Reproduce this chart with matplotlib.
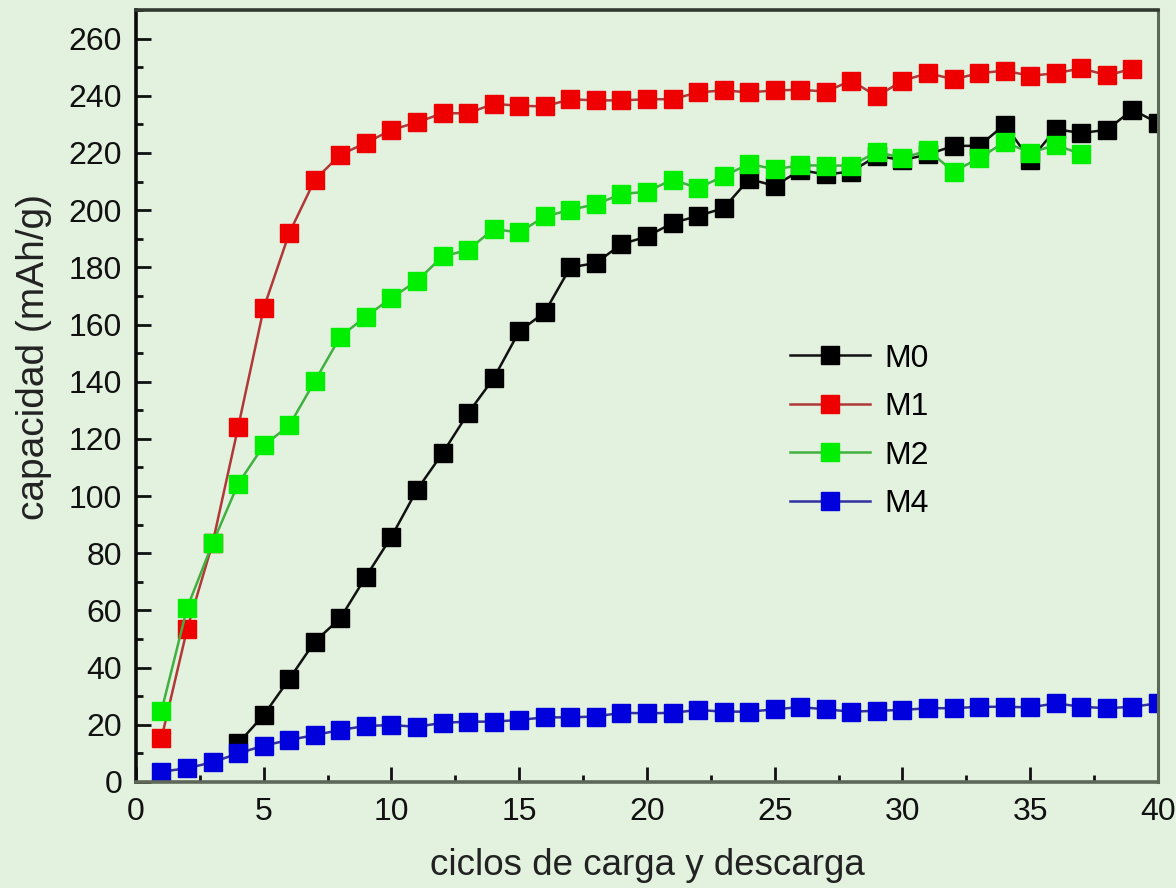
import numpy as np
import matplotlib.pyplot as plt
from matplotlib.ticker import MultipleLocator

plt.rcParams['font.family'] = ['Liberation Sans', 'DejaVu Sans']

# capacidad por ciclo para cada muestra
ciclos_m0 = np.arange(4, 41)
m0 = [13.5, 23.4, 36.0, 49.1, 57.3, 71.8, 85.8, 102.2, 115.0, 129.0,
      141.2, 157.6, 164.3, 180.0, 181.5, 188.1, 190.8, 195.5, 198.0, 200.7,
      210.9, 208.5, 214.0, 212.5, 213.5, 219.0, 217.5, 219.5, 222.5, 222.5,
      229.9, 217.6, 228.3, 227.0, 228.1, 235.1, 230.5]

ciclos_m1 = np.arange(1, 40)
m1 = [15.3, 53.4, 83.5, 124.1, 165.7, 192.0, 210.6, 219.4, 223.5, 228.1,
      230.7, 233.9, 233.9, 237.2, 236.5, 236.3, 238.8, 238.4, 238.4, 238.8,
      238.8, 241.2, 241.9, 241.2, 241.9, 242.1, 241.5, 245.3, 239.8, 245.3,
      247.9, 245.8, 247.9, 248.8, 247.0, 247.9, 249.6, 247.2, 249.4]

ciclos_m2 = np.arange(1, 38)
m2 = [24.9, 60.8, 83.5, 104.3, 117.7, 124.7, 140.2, 155.8, 162.8, 169.3,
      175.3, 183.8, 186.1, 193.4, 192.2, 197.8, 200.1, 202.1, 205.6, 206.5,
      210.7, 207.7, 211.9, 216.2, 214.3, 215.7, 215.6, 215.6, 220.4, 218.2,
      220.9, 213.5, 218.2, 223.8, 220.1, 222.8, 219.6]

ciclos_m4 = np.arange(1, 41)
m4 = [3.6, 4.8, 6.9, 10.0, 12.7, 14.7, 16.4, 18.2, 19.6, 19.9,
      19.3, 20.7, 21.1, 21.1, 21.7, 22.6, 22.6, 22.9, 24.2, 24.0,
      24.2, 25.2, 24.6, 24.6, 25.4, 26.2, 25.4, 24.6, 24.9, 25.2,
      25.8, 25.8, 26.3, 26.3, 26.1, 27.5, 26.3, 25.8, 26.3, 27.5]

fondo = '#e3f1df'
fig = plt.figure(figsize=(11.76, 8.88), dpi=100, facecolor=fondo)
ax = fig.add_axes([0.1156, 0.1194, 0.8691, 0.8693], facecolor=fondo)

ms = 13
ax.plot(ciclos_m0, m0, '-s', color='#111111', mfc='#000000', mec='#000000',
        lw=1.8, ms=ms, label='M0')
ax.plot(ciclos_m1, m1, '-s', color='#b03838', mfc='#ee0000', mec='#ee0000',
        lw=1.8, ms=ms, label='M1')
ax.plot(ciclos_m2, m2, '-s', color='#40b040', mfc='#00ee00', mec='#00ee00',
        lw=1.8, ms=ms, label='M2')
ax.plot(ciclos_m4, m4, '-s', color='#3030a0', mfc='#0000dd', mec='#0000dd',
        lw=1.8, ms=ms, label='M4')

ax.set_xlim(0, 40)
ax.set_ylim(0, 270)
ax.xaxis.set_major_locator(MultipleLocator(5))
ax.xaxis.set_minor_locator(MultipleLocator(2.5))
ax.yaxis.set_major_locator(MultipleLocator(20))
ax.yaxis.set_minor_locator(MultipleLocator(10))
ax.set_yticks(np.arange(0, 261, 20))

ax.tick_params(which='both', direction='in', top=False, right=False,
               colors='#111111', labelsize=23)
ax.tick_params(which='major', length=11, width=2)
ax.tick_params(which='minor', length=5, width=2)
ax.tick_params(axis='x', pad=11)
ax.tick_params(axis='y', pad=10)

ax.spines['left'].set_color('#0a0a0a')
ax.spines['left'].set_linewidth(2.6)
ax.spines['top'].set_color('#333a32')
ax.spines['top'].set_linewidth(2.6)
ax.spines['bottom'].set_color('#5d6858')
ax.spines['bottom'].set_linewidth(2.6)
ax.spines['right'].set_color('#5d6858')
ax.spines['right'].set_linewidth(2.2)

ax.set_xlabel('ciclos de carga y descarga', fontsize=26.5, color='#222222')
ax.set_ylabel('capacidad (mAh/g)', fontsize=28, color='#222222')
ax.xaxis.set_label_coords(0.5, -0.085)
ax.yaxis.set_label_coords(-0.082, 0.55)

ax.legend(loc='upper left', bbox_to_anchor=(0.64, 0.568), frameon=False,
          fontsize=23, handlelength=2.5, handletextpad=0.45,
          labelspacing=0.58, borderpad=0, borderaxespad=0)

fig.savefig('out.png', dpi=100, facecolor=fondo)
